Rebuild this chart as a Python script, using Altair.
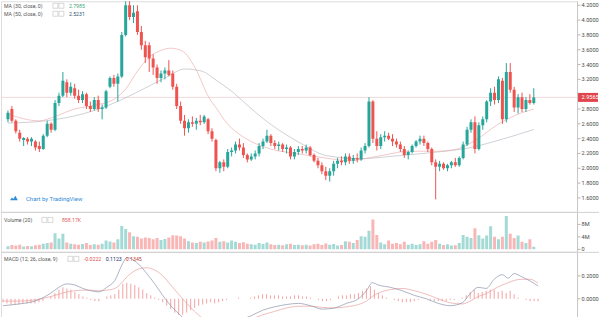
import altair as alt
import pandas as pd

FONT = "Roboto"
UP = "#26a69a"
DOWN = "#ef5350"

opens = [2.66, 2.80, 2.64, 2.48, 2.38, 2.40, 2.36, 2.36, 2.30, 2.26,
         2.44, 2.60, 2.52, 2.88, 2.98, 3.16, 3.02, 3.08, 2.98, 2.92,
         3.00, 2.84, 2.80, 2.92, 2.80, 2.82, 3.10, 3.22, 3.14, 3.24,
         3.80, 4.20, 4.04, 4.12, 3.84, 3.66, 3.66, 3.48, 3.36, 3.22,
         3.28, 3.32, 3.28, 3.10, 2.84, 2.64, 2.54, 2.62, 2.60, 2.64,
         2.62, 2.66, 2.50, 2.38, 2.00, 2.08, 2.02, 2.22, 2.24, 2.32,
         2.28, 2.18, 2.12, 2.16, 2.20, 2.30, 2.36, 2.44, 2.34, 2.30,
         2.32, 2.26, 2.28, 2.16, 2.22, 2.26, 2.24, 2.28, 2.18, 2.10,
         2.04, 1.96, 1.90, 1.96, 2.06, 2.10, 2.08, 2.16, 2.10, 2.14,
         2.12, 2.24, 2.30, 2.90, 2.40, 2.30, 2.42, 2.44, 2.40, 2.36,
         2.32, 2.26, 2.18, 2.22, 2.30, 2.36, 2.40, 2.34, 2.26, 2.08,
         2.02, 2.06, 2.00, 2.04, 2.08, 2.04, 2.14, 2.32, 2.52, 2.62,
         2.26, 2.58, 2.66, 2.90, 3.02, 2.92, 3.18, 2.66, 3.30, 3.06,
         2.82, 2.96, 2.80, 2.92, 2.88]
highs = [2.78, 2.84, 2.66, 2.52, 2.42, 2.42, 2.42, 2.38, 2.36, 2.46,
         2.64, 2.62, 2.92, 3.02, 3.30, 3.20, 3.16, 3.14, 3.06, 3.04,
         3.02, 2.90, 2.96, 2.98, 2.86, 3.06, 3.24, 3.26, 3.28, 3.84,
         4.26, 4.30, 4.20, 4.20, 3.92, 3.72, 3.70, 3.54, 3.40, 3.32,
         3.36, 3.46, 3.32, 3.14, 2.90, 2.72, 2.66, 2.70, 2.68, 2.72,
         2.72, 2.68, 2.54, 2.40, 2.10, 2.12, 2.26, 2.28, 2.36, 2.40,
         2.34, 2.20, 2.20, 2.24, 2.34, 2.40, 2.52, 2.46, 2.38, 2.36,
         2.34, 2.32, 2.30, 2.26, 2.30, 2.30, 2.32, 2.30, 2.20, 2.14,
         2.08, 2.02, 2.00, 2.10, 2.14, 2.16, 2.20, 2.20, 2.18, 2.20,
         2.28, 2.34, 2.96, 2.92, 2.50, 2.46, 2.50, 2.48, 2.46, 2.40,
         2.36, 2.30, 2.24, 2.32, 2.38, 2.44, 2.44, 2.36, 2.28, 2.12,
         2.10, 2.08, 2.06, 2.10, 2.14, 2.16, 2.36, 2.56, 2.66, 2.70,
         2.62, 2.70, 2.92, 3.08, 3.10, 3.24, 3.22, 3.42, 3.42, 3.10,
         3.00, 3.02, 2.96, 3.00, 3.08]
lows = [2.62, 2.62, 2.47, 2.36, 2.30, 2.32, 2.30, 2.24, 2.22, 2.25,
        2.42, 2.48, 2.50, 2.84, 2.96, 2.96, 2.98, 2.94, 2.88, 2.88,
        2.80, 2.76, 2.78, 2.76, 2.66, 2.80, 3.08, 3.10, 2.90, 3.22,
        3.78, 4.00, 3.96, 3.80, 3.60, 3.42, 3.30, 3.26, 3.14, 3.16,
        3.20, 3.24, 3.06, 2.80, 2.60, 2.44, 2.48, 2.56, 2.52, 2.58,
        2.60, 2.46, 2.36, 1.96, 1.94, 1.96, 2.00, 2.16, 2.20, 2.24,
        2.14, 2.08, 2.10, 2.12, 2.16, 2.26, 2.34, 2.30, 2.26, 2.24,
        2.22, 2.20, 2.12, 2.12, 2.18, 2.20, 2.20, 2.16, 2.08, 2.00,
        1.92, 1.84, 1.82, 1.90, 2.00, 2.04, 2.04, 2.06, 2.06, 2.08,
        2.10, 2.20, 2.28, 2.34, 2.24, 2.26, 2.36, 2.38, 2.30, 2.28,
        2.22, 2.14, 2.12, 2.20, 2.28, 2.32, 2.30, 2.22, 2.04, 1.58,
        1.96, 1.98, 1.96, 2.00, 2.02, 2.02, 2.12, 2.30, 2.48, 2.20,
        2.24, 2.52, 2.62, 2.84, 2.86, 2.88, 2.60, 2.62, 3.02, 2.76,
        2.74, 2.76, 2.76, 2.86, 2.86]
closes = [2.75, 2.64, 2.50, 2.40, 2.41, 2.36, 2.40, 2.28, 2.26, 2.44,
          2.60, 2.52, 2.88, 2.98, 3.18, 3.02, 3.10, 2.98, 2.92, 3.00,
          2.84, 2.80, 2.92, 2.80, 2.82, 3.04, 3.22, 3.14, 3.24, 3.80,
          4.20, 4.04, 4.10, 3.84, 3.66, 3.50, 3.48, 3.36, 3.22, 3.28,
          3.32, 3.26, 3.10, 2.84, 2.64, 2.54, 2.62, 2.60, 2.64, 2.62,
          2.70, 2.50, 2.40, 2.00, 2.08, 2.02, 2.22, 2.24, 2.32, 2.28,
          2.18, 2.12, 2.16, 2.20, 2.30, 2.36, 2.44, 2.34, 2.30, 2.32,
          2.26, 2.28, 2.16, 2.22, 2.26, 2.24, 2.28, 2.18, 2.10, 2.04,
          1.96, 1.90, 1.96, 2.06, 2.10, 2.08, 2.16, 2.10, 2.14, 2.12,
          2.24, 2.30, 2.90, 2.40, 2.30, 2.42, 2.44, 2.40, 2.36, 2.32,
          2.26, 2.18, 2.22, 2.30, 2.36, 2.40, 2.34, 2.26, 2.08, 2.02,
          2.06, 2.00, 2.04, 2.08, 2.04, 2.14, 2.32, 2.52, 2.62, 2.26,
          2.58, 2.66, 2.90, 3.02, 2.92, 3.20, 2.66, 3.30, 3.06, 2.82,
          2.96, 2.80, 2.92, 2.88, 2.9565]
volumes_m = [1.0, 1.4, 1.2, 1.5, 0.9, 1.1, 1.0, 1.3, 1.5, 1.8,
             2.0, 2.2, 5.2, 3.5, 5.0, 2.2, 1.8, 1.6, 1.5, 1.7,
             2.0, 1.4, 1.6, 1.5, 1.8, 2.8, 2.5, 2.2, 3.2, 7.5,
             6.5, 5.5, 4.2, 4.0, 3.5, 3.8, 3.6, 3.2, 3.6, 3.0,
             3.3, 3.8, 4.5, 4.4, 4.2, 3.5, 2.6, 2.2, 2.0, 2.4,
             2.2, 2.5, 2.8, 3.6, 2.4, 2.6, 2.2, 2.8, 2.4, 2.0,
             2.3, 1.8, 1.6, 1.5, 2.0, 1.7, 2.2, 1.6, 1.4, 1.5,
             1.3, 1.6, 1.8, 1.4, 1.5, 1.3, 1.5, 1.2, 1.6, 1.8,
             1.4, 1.9, 1.5, 1.7, 1.2, 1.4, 2.6, 2.4, 2.0, 3.0,
             4.2, 4.0, 6.0, 9.6, 4.6, 2.2, 1.6, 2.8, 1.8, 2.0,
             1.6, 2.4, 1.5, 1.8, 1.4, 1.6, 2.6, 1.8, 2.4, 3.0,
             1.8, 1.4, 1.6, 1.2, 1.3, 2.0, 4.6, 4.0, 3.6, 6.8,
             4.5, 3.5, 4.4, 7.4, 4.0, 3.2, 4.0, 10.7, 5.0, 3.6,
             4.4, 2.4, 2.0, 3.2, 0.858]
macd_hist = [-0.03, -0.04, -0.05, -0.05, -0.05, -0.04, -0.04, -0.04, -0.04, -0.03,
             -0.02, 0.0, 0.02, 0.05, 0.08, 0.10, 0.09, 0.08, 0.06, 0.04,
             0.02, 0.01, -0.01, -0.02, -0.02, 0.0, 0.02, 0.03, 0.04, 0.08,
             0.13, 0.14, 0.13, 0.12, 0.10, 0.08, 0.05, 0.03, 0.01, -0.01,
             -0.03, -0.06, -0.09, -0.12, -0.14, -0.14, -0.12, -0.10, -0.08, -0.06,
             -0.05, -0.04, -0.03, -0.04, -0.03, -0.02, -0.01, 0.0, 0.0, 0.01,
             0.0, 0.0, 0.01, 0.02, 0.03, 0.04, 0.04, 0.03, 0.03, 0.03,
             0.02, 0.02, 0.02, 0.03, 0.03, 0.02, 0.02, 0.01, 0.0, -0.01,
             -0.02, -0.02, -0.01, 0.0, 0.02, 0.03, 0.03, 0.04, 0.04, 0.05,
             0.07, 0.09, 0.11, 0.08, 0.05, 0.03, 0.01, 0.0, -0.01, -0.02,
             -0.03, -0.03, -0.03, -0.02, -0.01, 0.0, 0.0, -0.01, -0.02, -0.02,
             -0.02, -0.02, -0.01, -0.01, 0.0, 0.01, 0.03, 0.06, 0.08, 0.05,
             0.06, 0.07, 0.08, 0.08, 0.06, 0.07, 0.05, 0.07, 0.04, 0.01,
             0.0, -0.01, -0.02, -0.02, -0.0222]

ma30_i = [0, 8, 12, 17, 22, 27, 30, 33, 36, 39, 41.5, 44.5, 47.75, 51.25, 53.25, 55.75,
          59.5, 63.25, 67, 74.5, 82, 87, 92, 97, 102, 109.5, 114.5, 119.5, 124.5, 129.5, 134]
ma30_v = [2.73, 2.64, 2.70, 2.80, 2.85, 2.93, 3.07, 3.31, 3.50, 3.59, 3.62, 3.58, 3.35, 2.95,
          2.80, 2.61, 2.44, 2.33, 2.26, 2.19, 2.13, 2.10, 2.14, 2.19, 2.23, 2.23, 2.26, 2.39,
          2.58, 2.72, 2.7985]
ma50_i = [0, 9.5, 19.5, 27, 34.5, 40.75, 45, 49.5, 52.75, 57, 61.25, 65.75, 69.5, 74.5,
          81.25, 89.5, 99.5, 109.5, 117, 124.5, 134]
ma50_v = [2.61, 2.64, 2.74, 2.88, 3.07, 3.24, 3.34, 3.31, 3.20, 3.04, 2.84, 2.64, 2.50, 2.34,
          2.17, 2.13, 2.17, 2.22, 2.27, 2.37, 2.5231]

macd_i = [0, 4, 8, 12, 14, 16, 18, 20, 22, 24, 26, 28, 30, 31, 32, 34, 36, 38, 40, 42,
          44, 46, 48, 50, 53, 56, 59, 62, 65, 68, 71, 74, 77, 80, 83, 86, 89, 91, 92.5, 94,
          97, 100, 103, 106, 109, 112, 115, 117, 119, 121, 123, 125, 126.5, 128, 130, 132, 134]
macd_line = [-0.06, -0.045, -0.02, 0.05, 0.10, 0.13, 0.12, 0.09, 0.07, 0.06,
             0.10, 0.16, 0.31, 0.36, 0.35, 0.30, 0.22, 0.13, 0.03, -0.06,
             -0.13, -0.19, -0.23, -0.25, -0.26, -0.23, -0.19, -0.15, -0.10, -0.07,
             -0.05, -0.04, -0.06, -0.09, -0.08, -0.04, 0.0, 0.07, 0.14, 0.12,
             0.10, 0.07, 0.03, 0.0, -0.04, -0.06, -0.035, 0.045, 0.10, 0.09,
             0.17, 0.21, 0.18, 0.22, 0.19, 0.155, 0.1123]
signal_line = [-0.02, -0.02, -0.01, 0.02, 0.04, 0.06, 0.07, 0.075, 0.075, 0.07,
               0.075, 0.09, 0.15, 0.19, 0.22, 0.26, 0.27, 0.25, 0.20, 0.12,
               0.04, -0.04, -0.11, -0.17, -0.21, -0.23, -0.21, -0.18, -0.14, -0.11,
               -0.08, -0.065, -0.065, -0.075, -0.08, -0.07, -0.05, -0.02, 0.02, 0.05,
               0.08, 0.09, 0.07, 0.04, 0.0, -0.035, -0.045, -0.02, 0.02, 0.045,
               0.085, 0.12, 0.14, 0.16, 0.17, 0.17, 0.1345]

last_price = 2.9565
price_ticks = [1.6, 1.8, 2.0, 2.2, 2.4, 2.6, 2.8, 3.2, 3.4, 3.6, 3.8, 4.0, 4.2]
price_labels = ["1.6000", "1.8000", "2.0000", "2.2000", "2.4000", "2.6000", "2.8000",
                "3.2000", "3.4000", "3.6000", "3.8000", "4.0000", "4.2000"]
vol_ticks = [0, 4, 8]
vol_labels = ["0", "4M", "8M"]
macd_ticks = [0.0, 0.2]
macd_labels = ["0.0000", "0.2000"]

N = len(closes)
df = pd.DataFrame({
    "i": list(range(N)), "o": opens, "h": highs, "l": lows, "c": closes,
    "v": volumes_m, "hist": macd_hist,
})
df["dir"] = ["up" if c >= o else "down" for o, c in zip(opens, closes)]

W = 577
xs = alt.Scale(domain=[-0.5, 143.75], nice=False, zero=False)
X = alt.X("i:Q", scale=xs, axis=None)
col = alt.Color("dir:N", scale=alt.Scale(domain=["up", "down"], range=[UP, DOWN]), legend=None)


def right_axis(ticks, labels, scale, height):
    d = pd.DataFrame({"val": ticks, "lab": labels})
    dom = alt.Chart(pd.DataFrame({"k": [0]})).mark_rule(color="#c8c8c8", strokeWidth=1).encode(
        x=alt.value(W + 0.5), y=alt.value(0), y2=alt.value(height))
    tk = alt.Chart(d).mark_rule(color="#b8b8b8", strokeWidth=1).encode(
        y=alt.Y("val:Q", scale=scale, axis=None), x=alt.value(W + 0.5), x2=alt.value(W + 3.5))
    lb = alt.Chart(d).mark_text(align="left", baseline="middle", fontSize=5.6, font=FONT,
                                color="#4a4a4a").encode(
        y=alt.Y("val:Q", scale=scale, axis=None), x=alt.value(W + 4.5), text="lab:N")
    return [dom, tk, lb]


def txt(text, x, y, color="#555555", size=5.2, align="left"):
    return alt.Chart(pd.DataFrame({"t": [text]})).mark_text(
        align=align, baseline="middle", fontSize=size, font=FONT, color=color
    ).encode(x=alt.value(x), y=alt.value(y), text="t:N")


def box(x, y):
    return alt.Chart(pd.DataFrame({"k": [0]})).mark_rect(
        fill="white", stroke="#bdbdbd", strokeWidth=0.6
    ).encode(x=alt.value(x), x2=alt.value(x + 5), y=alt.value(y - 2.5), y2=alt.value(y + 2.5))


def sep():
    return alt.Chart(pd.DataFrame({"k": [0]})).mark_rule(color="#d2d2d2", strokeWidth=1).encode(
        x=alt.value(0), x2=alt.value(599), y=alt.value(0.5))


# ---------- price pane ----------
ps = alt.Scale(domain=[1.411, 4.254], nice=False, zero=False)
wicks = alt.Chart(df).mark_rule(strokeWidth=1, clip=True).encode(
    x=X, y=alt.Y("l:Q", scale=ps, axis=None), y2="h:Q", color=col)
bodies = alt.Chart(df).mark_bar(size=3, clip=True).encode(
    x=X, y=alt.Y("o:Q", scale=ps, axis=None), y2="c:Q", color=col)
ma30 = alt.Chart(pd.DataFrame({"i": ma30_i, "v": ma30_v})).mark_line(
    color="#eeb0b0", strokeWidth=0.7, interpolate="monotone", clip=True).encode(
    x=X, y=alt.Y("v:Q", scale=ps, axis=None))
ma50 = alt.Chart(pd.DataFrame({"i": ma50_i, "v": ma50_v})).mark_line(
    color="#b9bdc4", strokeWidth=0.7, interpolate="monotone", clip=True).encode(
    x=X, y=alt.Y("v:Q", scale=ps, axis=None))
pline = alt.Chart(pd.DataFrame({"p": [last_price]})).mark_rule(
    color="#ecd0d0", strokeWidth=0.8).encode(
    y=alt.Y("p:Q", scale=ps, axis=None), x=alt.value(0), x2=alt.value(W))
pbox = alt.Chart(pd.DataFrame({"p": [last_price]})).mark_rect(
    color="#e0454b", yOffset=-4.5, y2Offset=4.5).encode(
    y=alt.Y("p:Q", scale=ps, axis=None), y2="p:Q", x=alt.value(W + 1), x2=alt.value(598))
plab = alt.Chart(pd.DataFrame({"p": [last_price], "t": ["2.9565"]})).mark_text(
    align="left", baseline="middle", fontSize=5.6, font=FONT, color="white").encode(
    y=alt.Y("p:Q", scale=ps, axis=None), x=alt.value(W + 4.5), text="t:N")

logo = alt.Chart(pd.DataFrame({"k": [0]})).mark_point(
    shape="M-1,0.6 L-0.55,-0.1 L-0.15,0.3 L0.35,-0.55 L1,0.6 Z", filled=True,
    color="#2e8bd6", size=60, opacity=1).encode(x=alt.value(13), y=alt.value(197))

price = alt.layer(
    pline, ma50, ma30, wicks, bodies,
    *right_axis(price_ticks, price_labels, ps, 211),
    pbox, plab,
    txt("MA (30, close, 0)", 3, 4.5), box(52, 4.5), box(58, 4.5), txt("2.7985", 68, 4.5, "#3aa37a"),
    txt("MA (50, close, 0)", 3, 12.5), box(52, 12.5), box(58, 12.5), txt("2.5231", 68, 12.5, "#2f5470"),
    logo, txt("Chart by TradingView", 25, 198, "#2e8bd6", 6),
).properties(width=W, height=211)

# ---------- volume pane ----------
vs = alt.Scale(domain=[-0.8, 12], nice=False, zero=False)
vbars = alt.Chart(df).mark_bar(size=3, opacity=0.42, clip=True).encode(
    x=X, y=alt.Y("v:Q", scale=vs, axis=None), y2=alt.datum(0), color=col)
volume = alt.layer(
    vbars, *right_axis(vol_ticks, vol_labels, vs, 40), sep(),
    txt("Volume (20)", 3, 8), box(41, 8), box(47, 8), txt("858.17K", 61, 8, "#e06060"),
).properties(width=W, height=40)

# ---------- MACD pane ----------
ms = alt.Scale(domain=[-0.165, 0.409], nice=False, zero=False)
hbars = alt.Chart(df).mark_rule(strokeWidth=1, color="#f4a3a3", clip=True).encode(
    x=X, y=alt.Y("hist:Q", scale=ms, axis=None), y2=alt.datum(0))
ml = alt.Chart(pd.DataFrame({"i": macd_i, "v": macd_line})).mark_line(
    color="#8a93aa", strokeWidth=0.7, interpolate="monotone", clip=True).encode(
    x=X, y=alt.Y("v:Q", scale=ms, axis=None))
sl = alt.Chart(pd.DataFrame({"i": macd_i, "v": signal_line})).mark_line(
    color="#eaa0a0", strokeWidth=0.7, interpolate="monotone", clip=True).encode(
    x=X, y=alt.Y("v:Q", scale=ms, axis=None))
macd = alt.layer(
    hbars, sl, ml, *right_axis(macd_ticks, macd_labels, ms, 66), sep(),
    txt("MACD (12, 26, close, 9)", 3, 7), box(67, 7), box(73, 7),
    txt("-0.0222", 83, 7, "#e05050"), txt("0.1123", 105, 7, "#22306a"), txt("0.1345", 125, 7, "#c03a3a"),
).properties(width=W, height=66)

chart = alt.vconcat(price, volume, macd, spacing=0, bounds="flush", padding=0).configure_view(
    stroke=None).configure(background="white")

chart.save("out.html", embed_options={"renderer": "svg", "actions": False})
